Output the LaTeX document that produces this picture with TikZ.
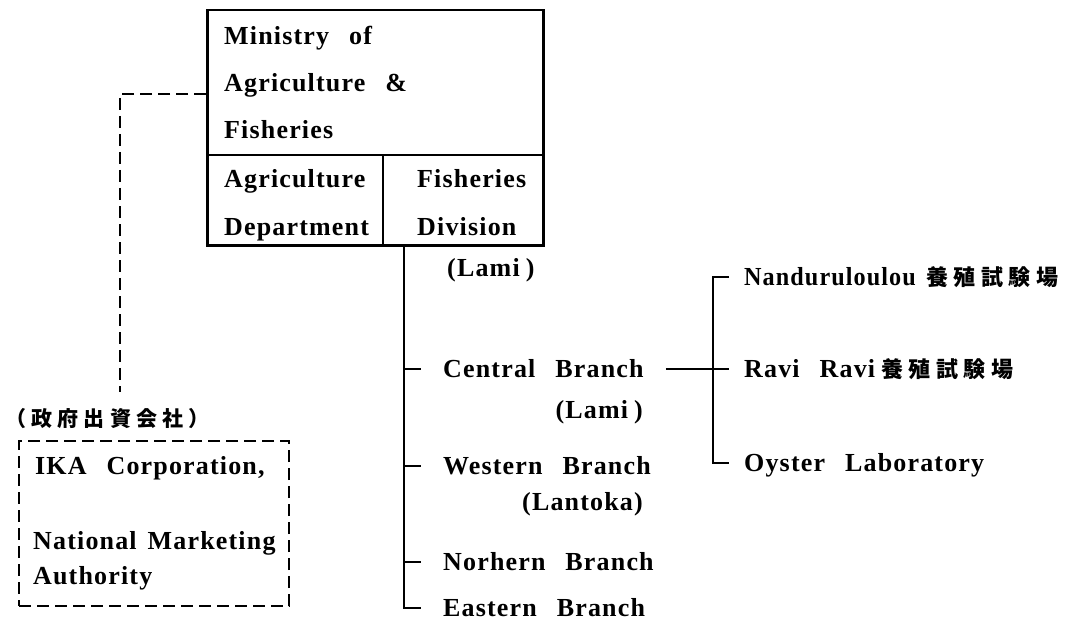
\documentclass[tikz,border=0pt]{standalone}
\usepackage{graphicx}
\usepackage{fontspec}
\setmainfont{Liberation Serif}[LetterSpace=4.5,WordSpace=2.6]
\newfontfamily\cjk{Noto Sans CJK JP}[LetterSpace=25]
\begin{document}
\begin{tikzpicture}[x=1pt,y=-1pt,
  txt/.style={inner sep=0pt, text height=17pt, text depth=0pt,
    font=\fontsize{26}{30}\selectfont\bfseries, anchor=west},
  conn/.style={line width=2pt},
  boxline/.style={line width=2.5pt},
  dashline/.style={line width=2pt, dash pattern=on 12pt off 6pt}]
\useasboundingbox (0,0) rectangle (1066,623);

% main ministry box
\node[draw, boxline, anchor=north west, inner sep=0pt,
      minimum width=336pt, minimum height=235pt] (mof) at (206,9) {};
\coordinate (divL) at (206,155);
\coordinate (divR) at (542,155);
\coordinate (divM) at (383,155);
\draw[conn] (divL) -- (divR);
\draw[conn] (divM) -- (divM |- mof.south);

\node[txt] (m1) at (224,36) {Ministry of};
\node[txt] (m2) at (224,83) {Agriculture \&};
\node[txt] (m3) at (224,130) {Fisheries};
\node[txt] (ag1) at (224,179) {Agriculture};
\node[txt] (ag2) at (224,227) {Department};
\node[txt] (fd1) at (417,179) {Fisheries};
\node[txt] (fd2) at (417,227) {Division};
\node[txt] (lami0) at (447,268) {(Lami\hspace{6pt})};

% branches
\coordinate (trunk) at (404,244);
\node[txt] (central) at (443,369) {Central Branch};
\node[txt, anchor=east] (lami1) at (643,410) {(Lami\hspace{6pt})};
\node[txt] (western) at (443,466) {Western Branch};
\node[txt, anchor=east] (lantoka) at (643,502) {(Lantoka)};
\node[txt] (northern) at (443,562) {Norhern Branch};
\node[txt] (eastern) at (443,608) {Eastern Branch};

\coordinate (tC) at (421,369);
\coordinate (tW) at (421,466);
\coordinate (tN) at (421,562);
\coordinate (tE) at (421,608);
\draw[conn] (trunk) |- (tE);
\draw[conn] (trunk |- tC) -- (tC);
\draw[conn] (trunk |- tW) -- (tW);
\draw[conn] (trunk |- tN) -- (tN);

% stations
\node[txt] (nandu) at (744,277) {\makebox[182pt][l]{\scalebox{0.93}[1]{Nanduruloulou}}{\cjk\bfseries\fontsize{22}{22}\selectfont 養殖試験場}};
\node[txt] (ravi) at (744,369) {\makebox[137pt][l]{Ravi Ravi}{\cjk\bfseries\fontsize{22}{22}\selectfont 養殖試験場}};
\node[txt] (oyster) at (744,463) {Oyster Laboratory};

\coordinate (sv) at (713,369);
\coordinate (sN) at (729,277);
\coordinate (sR) at (729,369);
\coordinate (sO) at (729,463);
\draw[conn] (central.east) ++(22,0) -- (sR);
\draw[conn] (sN) -| (sv |- sO) -- (sO);

% corporation
\node[inner sep=0pt, anchor=west, font=\cjk\bfseries\fontsize{21}{21}\selectfont] (gov) at (5,419) {（政府出資会社）};
\node[draw, dashline, anchor=north west, inner sep=0pt,
      minimum width=270pt, minimum height=165pt] (corp) at (18,440) {};
\node[txt] (c1) at (35,466) {IKA Corporation,};
\node[txt] (c2) at (33,541) {National\hspace{11pt}Marketing};
\node[txt] (c3) at (33,576) {Authority};

\coordinate (dc) at (120,94);
\coordinate (dend) at (120,392);
\draw[dashline] (mof.west |- dc) -- (dc) -- (dend);
\end{tikzpicture}
\end{document}
